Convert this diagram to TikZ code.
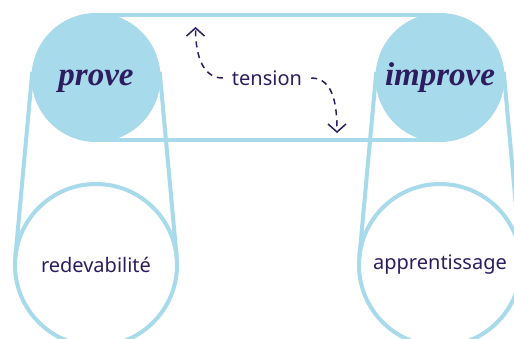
\documentclass[tikz,border=0pt]{standalone}
\usepackage{fontspec}
\setmainfont{Noto Sans}
\newfontfamily\displayserif{Liberation Serif}
\usetikzlibrary{arrows.meta,calc}
\definecolor{lblue}{HTML}{A7DAEB}
\definecolor{ink}{HTML}{2D1C5F}
\tikzset{
  bigdot/.style={circle, fill=lblue, minimum size=129pt, inner sep=0pt, text=ink,
     text height=16pt, text depth=0pt,
     font=\displayserif\bfseries\itshape\fontsize{33}{36}\selectfont},
  ring/.style={circle, draw=lblue, line width=4pt, minimum size=162pt, inner sep=0pt, text=ink,
     font=\fontsize{20}{24}\selectfont},
  band/.style={draw=lblue, line width=4pt},
  tensionarrow/.style={draw=ink, line width=1.5pt, dash pattern=on 6pt off 5pt,
     -{Straight Barb[length=8pt,width=18pt,line width=1.5pt]}},
}
\begin{document}
\begin{tikzpicture}[x=1pt,y=-1pt]
\clip (0,0) rectangle (514,339);
% bottom rings
\node[ring] (redev) at (96,265) {redevabilité};
\node[ring] (appr) at (440,265) {apprentissage};
% coordinates of the circle centres for tangent lines
\coordinate (pc) at (96,77.5);
\coordinate (ic) at (440,77.5);
% tangent straps
\draw[band] ($(pc)+(-63.7,-5.8)$) -- ($(redev.center)+(-80.7,-7.3)$);
\draw[band] ($(pc)+(63.7,-5.8)$) -- ($(redev.center)+(80.7,-7.3)$);
\draw[band] ($(ic)+(-63.7,-5.8)$) -- ($(appr.center)+(-80.7,-7.3)$);
\draw[band] ($(ic)+(63.7,-5.8)$) -- ($(appr.center)+(80.7,-7.3)$);
% top horizontal band
\draw[band] ($(pc)+(0,-62.5)$) -- ($(ic)+(0,-62.5)$);
\draw[band] ($(pc)+(0,62.5)$) -- ($(ic)+(0,62.5)$);
% top filled circles
\node[bigdot] (prove) at (pc) {prove};
\node[bigdot] (improve) at (ic) {improve};
% tension
\node[text=ink, font=\fontsize{20}{24}\selectfont, inner xsep=9pt, inner ysep=2pt] (tension) at (267,78) {tension};
\coordinate (up) at (195.5,27);
\coordinate (down) at (337,133);
\draw[tensionarrow] (tension.west) to[out=180,in=-90] (up);
\draw[tensionarrow] (tension.east) to[out=0,in=90] (down);
\end{tikzpicture}
\end{document}
